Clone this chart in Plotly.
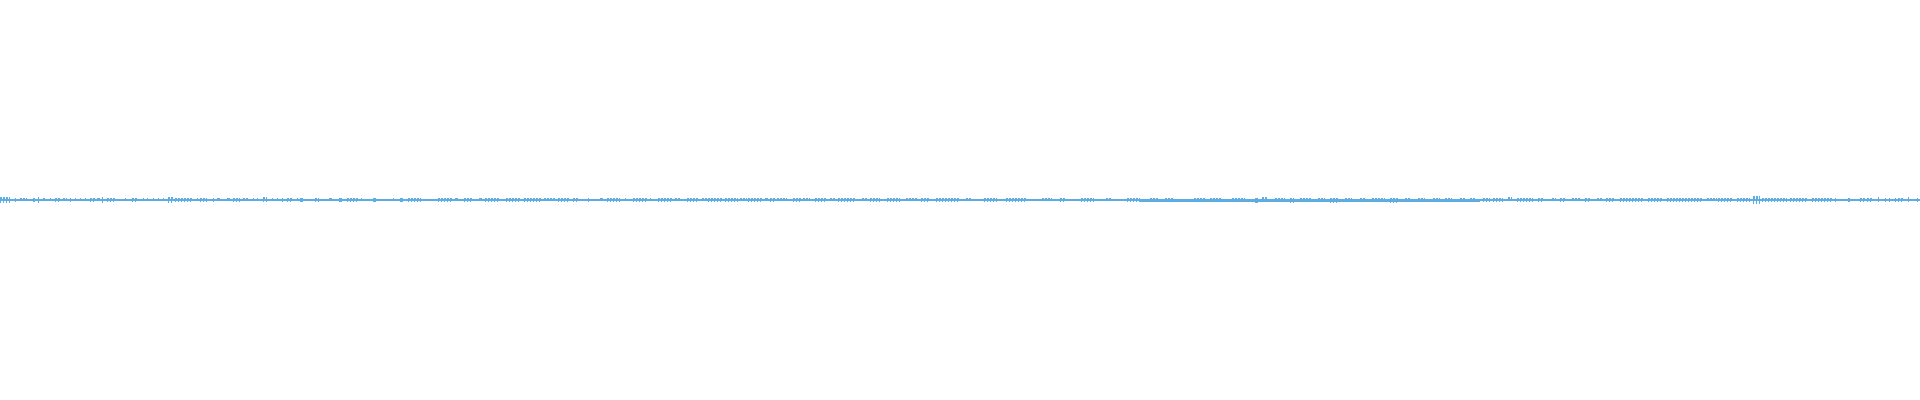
import plotly.graph_objects as go

# Waveform: pixel-column segments where the trace
# rises above its thin base line. Units are pixels above / below centre.
WIDTH = 1920
base_up = 1
base_dn = 1

# thicker stretch of the recording (start, end, extra up, extra down)
thick_start = [1139, 1430]
thick_end = [1430, 1480]
thick_up = [0, 0]
thick_dn = [1, 1]

seg_start = [0, 15, 20, 33, 38, 43, 50, 55, 63, 70, 75, 80, 85, 90, 97, 102, 107, 125, 132, 143,
             147, 153, 158, 163, 168, 175, 197, 200, 213, 217, 227, 233, 243, 253, 257, 263, 272, 277, 282, 287,
             297, 300, 315, 329, 339, 347, 361, 373, 393, 400, 408, 438, 455, 464, 479, 485, 506, 524, 544, 558,
             573, 588, 600, 607, 625, 633, 650, 658, 675, 687, 702, 708, 725, 740, 748, 765, 770, 777, 793, 803,
             815, 830, 838, 862, 870, 887, 906, 921, 936, 966, 984, 1006, 1042, 1060, 1081, 1106, 1127, 1150, 1165, 1194,
             1210, 1232, 1255, 1262, 1275, 1290, 1300, 1318, 1330, 1345, 1360, 1372, 1390, 1405, 1418, 1433, 1445, 1460, 1470, 1483,
             1493, 1508, 1517, 1538, 1552, 1560, 1572, 1585, 1597, 1606, 1620, 1648, 1667, 1707, 1718, 1737, 1753, 1762, 1790, 1812,
             1827, 1835, 1848, 1860, 1867, 1878, 1885, 1889, 1895, 1898, 1908, 1917]
seg_end = [10, 16, 27, 35, 39, 45, 51, 60, 67, 71, 76, 81, 86, 95, 100, 103, 115, 126, 138, 144,
           148, 154, 159, 164, 173, 193, 198, 207, 214, 220, 230, 240, 248, 254, 258, 267, 273, 278, 283, 292,
           298, 303, 319, 332, 342, 358, 362, 376, 394, 403, 421, 452, 458, 473, 482, 500, 521, 542, 555, 570,
           579, 589, 603, 620, 626, 647, 651, 672, 680, 698, 707, 723, 738, 747, 763, 768, 775, 787, 802, 810,
           827, 835, 855, 867, 880, 900, 918, 930, 960, 972, 997, 1027, 1052, 1066, 1094, 1112, 1140, 1158, 1173, 1205,
           1222, 1245, 1258, 1268, 1285, 1294, 1312, 1325, 1338, 1352, 1366, 1385, 1398, 1410, 1425, 1440, 1452, 1465, 1476, 1490,
           1503, 1512, 1533, 1543, 1556, 1566, 1580, 1590, 1602, 1614, 1643, 1663, 1703, 1717, 1733, 1750, 1760, 1787, 1807, 1832,
           1828, 1836, 1850, 1865, 1873, 1879, 1886, 1890, 1896, 1903, 1909, 1918]
seg_up = [2, 1, 1, 1, 2, 1, 1, 1, 1, 1, 1, 1, 1, 1, 1, 2, 1, 1, 1, 1,
          1, 1, 1, 1, 2, 1, 1, 1, 1, 1, 1, 1, 1, 1, 1, 2, 1, 1, 1, 1,
          1, 1, 1, 1, 1, 1, 1, 1, 1, 1, 1, 1, 1, 1, 1, 1, 1, 1, 1, 1,
          1, 1, 1, 1, 1, 1, 1, 1, 1, 1, 1, 1, 1, 1, 1, 1, 1, 1, 1, 1,
          1, 1, 1, 1, 1, 1, 1, 1, 1, 1, 1, 1, 1, 1, 1, 1, 1, 1, 1, 1,
          1, 1, 1, 2, 1, 1, 1, 1, 1, 1, 1, 1, 1, 1, 1, 1, 1, 1, 1, 1,
          1, 2, 1, 1, 1, 1, 1, 1, 1, 1, 1, 1, 1, 1, 1, 1, 3, 1, 1, 1,
          1, 1, 1, 1, 1, 2, 1, 1, 1, 1, 2, 1]
seg_dn = [2, 1, 0, 1, 2, 0, 0, 1, 0, 1, 0, 0, 0, 1, 0, 2, 1, 0, 1, 0,
          0, 0, 0, 0, 2, 1, 0, 1, 1, 0, 0, 1, 0, 0, 0, 1, 0, 0, 1, 1,
          0, 1, 1, 0, 1, 1, 0, 1, 0, 1, 1, 1, 0, 1, 0, 1, 1, 1, 0, 1,
          1, 1, 0, 1, 0, 1, 0, 1, 0, 1, 0, 1, 1, 0, 1, 0, 1, 0, 1, 0,
          1, 0, 1, 0, 1, 1, 0, 1, 1, 0, 1, 1, 0, 1, 1, 0, 1, 1, 1, 1,
          1, 1, 2, 1, 1, 2, 1, 1, 2, 1, 1, 1, 2, 1, 1, 1, 1, 1, 1, 1,
          1, 0, 1, 1, 0, 1, 0, 1, 0, 1, 1, 1, 1, 0, 1, 1, 3, 1, 1, 1,
          1, 1, 1, 1, 1, 1, 1, 1, 1, 1, 1, 1]

up = [base_up] * WIDTH
dn = [base_dn] * WIDTH
for s, e, u, d in zip(thick_start, thick_end, thick_up, thick_dn):
    for i in range(s, e):
        up[i] = max(up[i], base_up + u)
        dn[i] = max(dn[i], base_dn + d)
for s, e, u, d in zip(seg_start, seg_end, seg_up, seg_dn):
    span = e - s
    for k, i in enumerate(range(s, min(e, WIDTH))):
        # wide clusters are drawn as separate one/two-pixel ticks, as in the picture
        if span > 3 and k % 3 == 2:
            continue
        up[i] = max(up[i], base_up + u)
        if span <= 3 or k % 3 == 0:
            dn[i] = max(dn[i], base_dn + d)

# stepped outline: upper envelope left->right, lower envelope right->left
xs, ys = [], []
for c in range(WIDTH):
    xs += [c, c + 1]
    ys += [up[c], up[c]]
for c in range(WIDTH - 1, -1, -1):
    xs += [c + 1, c]
    ys += [-dn[c], -dn[c]]

fig = go.Figure(go.Scatter(
    x=xs, y=ys, mode="lines", fill="toself",
    fillcolor="#5dade2", line=dict(width=0, color="#5dade2"),
    hoverinfo="skip",
))
fig.update_layout(
    width=1920, height=400,
    margin=dict(l=0, r=0, t=0, b=0),
    paper_bgcolor="white", plot_bgcolor="white",
    showlegend=False,
    xaxis=dict(range=[0, WIDTH], visible=False, fixedrange=True),
    yaxis=dict(range=[-200, 200], visible=False, fixedrange=True),
)
fig.write_html("out.html", config={"displayModeBar": False},
               post_script="document.body.style.margin='0';document.body.style.overflow='hidden';")
